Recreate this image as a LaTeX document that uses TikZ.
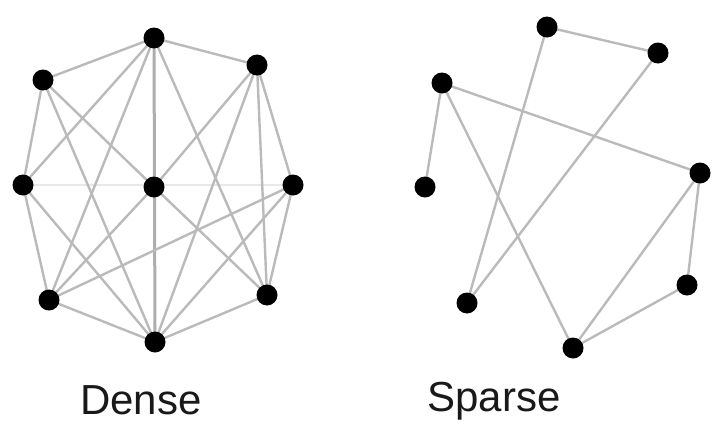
\documentclass[tikz,border=0pt]{standalone}
\usepackage{fontspec}
\setmainfont{Liberation Sans}
\begin{document}
\begin{tikzpicture}[x=1pt,y=-1pt,
  dot/.style={circle,fill=black,inner sep=0pt,minimum size=21pt},
  edge/.style={draw=black!27,line width=2.4pt},
  faint/.style={draw=black!9,line width=1.6pt},
  lbl/.style={anchor=base,font=\fontsize{42}{46}\selectfont,text=black!90,inner sep=0pt}]
\useasboundingbox (0,0) rectangle (728,434);
% dense graph nodes
\coordinate (T) at (154,38);
\coordinate (UL) at (43,80);
\coordinate (UR) at (257,65);
\coordinate (L) at (23,185);
\coordinate (C) at (154,187);
\coordinate (R) at (293,185);
\coordinate (LL) at (49,300);
\coordinate (LR) at (267,295);
\coordinate (B) at (155,342);
% sparse graph nodes
\coordinate (A) at (547,27);
\coordinate (Bn) at (658,53);
\coordinate (Cn) at (442,83);
\coordinate (Dn) at (425,187);
\coordinate (En) at (700,173);
\coordinate (Fn) at (467,303);
\coordinate (Gn) at (687,285);
\coordinate (Hn) at (573,348);
% dense edges
\draw[faint] (L) -- (R);
\draw[edge] (T) -- (UL) (T) -- (UR) (T) -- (L) (T) -- (LL) (T) -- (LR);
\draw[edge,line width=3pt,draw=black!32] (T) -- (B);
\draw[edge] (UL) -- (L) (UL) -- (C) (UL) -- (B);
\draw[edge] (UR) -- (C) (UR) -- (B) (UR) -- (LR) (UR) -- (R);
\draw[edge] (L) -- (LL) (L) -- (B);
\draw[edge] (C) -- (LL) (C) -- (LR);
\draw[edge] (R) -- (LL) (R) -- (LR) (R) -- (B);
\draw[edge] (LL) -- (B) (LR) -- (B);
% sparse edges
\draw[edge] (A) -- (Bn) (A) -- (Fn) (Bn) -- (Fn);
\draw[edge] (Cn) -- (Dn) (Cn) -- (En) (Cn) -- (Hn);
\draw[edge] (En) -- (Hn) (En) -- (Gn) (Gn) -- (Hn);
% dots
\foreach \n in {T,UL,UR,L,C,R,LL,LR,B,A,Bn,Cn,Dn,En,Fn,Gn,Hn}
  \node[dot] (d\n) at (\n) {};
% labels
\node[lbl] (dense) at (141,414) {Dense};
\node[lbl] (sparse) at (494,411) {Sparse};
\end{tikzpicture}
\end{document}
